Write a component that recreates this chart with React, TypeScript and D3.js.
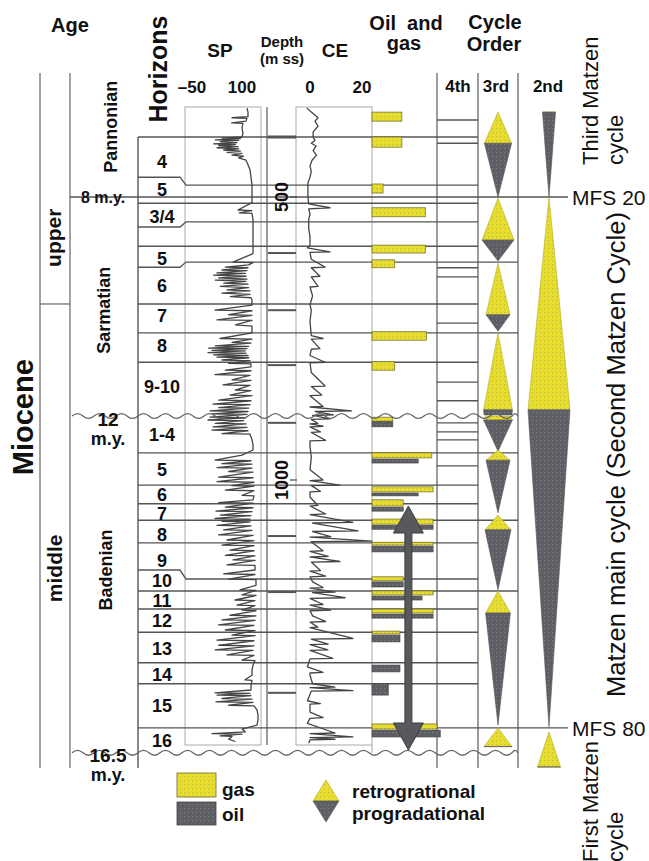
import React from 'react';
import * as d3 from 'd3';

const FONT = "'Liberation Sans', Arial, Helvetica, sans-serif";

// ---------------- data ----------------
const DEPTH_TICKS = [500, 1000];
const SP_TICKS = [-50, 100];
const CE_TICKS = [0, 20];
const ORDER_LABELS = ['4th', '3rd', '2nd'];

const HORIZON_LABELS = ['4', '5', '3/4', '5', '6', '7', '8', '9-10', '1-4', '5', '6', '7', '8', '9', '10', '11', '12', '13', '14', '15', '16'];
const HORIZON_LABEL_DEPTHS = [438, 486, 534, 608, 657, 710, 762, 834, 919, 982, 1025, 1060, 1097, 1142, 1177, 1213, 1248, 1297, 1344, 1398, 1460];
const HORIZON_BOUNDS_LEFT = [394, 465, 511, 553, 587, 624, 689, 740, 792, 952, 1009, 1042, 1071, 1111, 1159, 1196, 1228, 1269, 1323, 1360];
const HORIZON_BOUNDS_RIGHT = [394, 479, 511, 544, 587, 615, 689, 740, 792, 952, 1009, 1042, 1071, 1111, 1175, 1196, 1228, 1269, 1323, 1360];
const THIRD_ORDER_BOUNDS = [615, 740, 952, 1071, 1196];
const FOURTH_ORDER_BOUNDS = [364, 405, 625, 641, 723, 827, 860, 899, 915, 929, 975];
const MFS_LABELS = ['MFS 20', 'MFS 80'];
const MFS_DEPTHS = [500, 1438];
const UNCONFORMITY_DEPTHS = [887, 1482];
const UNCONFORMITY_AGES = ['12', '16.5'];
const AGE_8_DEPTH = 500;

const STAGES = ['Pannonian', 'Sarmatian', 'Badenian'];
const STAGE_DEPTHS = [376, 700, 1159];
const EPOCH_PARTS = ['upper', 'middle'];
const EPOCH_PART_DEPTHS = [572, 1156];
const EPOCH_BOUNDARY = 689;
const EPOCH = 'Miocene';
const EPOCH_DEPTH = 889;

const DEPTH_MARKS = [394, 599, 700, 797, 899, 1099, 1198, 1376];

// SP log [depth m, mV]
const SP_LOG = [
  [343, 115], [350, 118], [358, 118], [360, 70], [361, 115], [366, 112], [369, 69], [370, 103], [378, 100], [387, 103], [394, 100],
  [396, 40], [397, 95], [399, 20], [400, 90], [402, 35], [404, 85], [406, 15], [407, 80], [409, 30], [411, 88], [413, 25], [415, 90], [417, 45], [419, 95], [421, 55], [423, 100], [426, 70], [428, 105], [431, 90], [435, 112],
  [443, 118], [452, 124], [465, 127], [479, 130], [488, 130], [500, 130],
  [510, 130], [523, 88], [524, 130], [528, 92], [529, 130], [541, 133], [549, 133], [567, 133], [585, 133], [600, 133], [615, 73], [616, 133],
  [620, 120], [624, 50], [625, 118], [629, 40], [630, 115], [634, 25], [635, 110], [638, 15], [640, 112], [643, 30], [645, 115], [647, 20], [649, 112], [652, 45], [654, 118], [658, 35], [660, 120], [664, 55], [666, 124], [670, 40], [672, 124], [676, 65], [678, 127], [682, 130],
  [691, 130], [700, 19], [701, 130], [708, 60], [709, 130], [717, 25], [718, 130], [726, 80], [728, 130], [740, 130],
  [750, 34], [751, 130], [757, 70], [758, 127], [763, 20], [764, 120], [767, 0], [768, 115], [771, 10], [772, 110], [775, -2], [776, 112], [779, 15], [780, 118], [783, 25], [784, 120], [788, 40], [789, 124], [794, 60], [795, 127],
  [800, 127], [806, 50], [807, 127], [814, 19], [815, 124], [823, 70], [824, 127], [832, 43], [833, 124], [841, 80], [842, 127], [850, 64], [851, 130], [859, 30], [860, 127], [866, 13], [867, 124], [872, 30], [873, 120], [878, 4], [879, 118], [883, 10], [884, 115],
  [889, 4], [890, 110], [894, -2], [895, 105], [900, 20], [901, 112], [906, 13], [907, 115], [912, 10], [913, 118], [918, 40], [919, 124], [929, 130], [938, 133], [947, 133],
  [956, 100], [965, 19], [966, 127], [971, 40], [972, 130], [978, 25], [979, 130], [985, 60], [986, 133], [995, 30], [996, 133], [1003, 25], [1004, 136], [1010, 70], [1011, 136], [1018, 50], [1019, 136], [1027, 100], [1028, 136],
  [1035, 133], [1040, 30], [1041, 133], [1048, 50], [1049, 133], [1055, 22], [1056, 130], [1062, 35], [1063, 127], [1068, 19], [1069, 124], [1073, 40], [1074, 124], [1080, 25], [1081, 127], [1088, 45], [1089, 130], [1097, 30], [1098, 133], [1106, 55], [1107, 136], [1115, 40], [1116, 136], [1124, 64], [1125, 136], [1133, 50], [1134, 139], [1141, 73], [1142, 139], [1150, 55], [1151, 139],
  [1159, 139], [1166, 45], [1167, 139], [1175, 60], [1176, 142], [1186, 142], [1194, 94], [1195, 142], [1203, 100], [1204, 142],
  [1212, 79], [1213, 139], [1221, 85], [1222, 139], [1230, 100], [1231, 142], [1239, 64], [1240, 142], [1247, 40], [1248, 139], [1256, 30], [1257, 136], [1265, 50], [1266, 139], [1274, 70], [1275, 139],
  [1283, 25], [1284, 136], [1292, 30], [1293, 136], [1300, 19], [1301, 133], [1309, 55], [1310, 136], [1318, 100], [1319, 139],
  [1327, 133], [1336, 130], [1345, 130], [1353, 109], [1354, 130], [1362, 127], [1371, 127], [1376, 19], [1377, 124], [1380, 25], [1381, 127], [1386, 40], [1387, 130], [1392, 22], [1393, 133], [1398, 60], [1399, 136],
  [1406, 145], [1415, 148], [1424, 148], [1433, 145], [1440, 100], [1445, 110], [1448, 10], [1449, 100], [1452, 34], [1453, 70], [1458, 60], [1462, 80],
];

// CE log [depth m, value]
const CE_LOG = [
  [343, -1.2], [350, 0.5], [360, 3.1], [366, 1.9], [375, 3.1], [385, 1.2], [394, 1.2], [400, 1.9], [405, 0.5], [410, 2.3], [418, 1.2], [426, 2.5], [435, 0.8], [445, 0], [455, 0.5], [465, 0], [475, -0.8], [490, -0.8], [500, -0.8], [512, -0.5], [519, 7.7], [521, -0.5], [530, 0], [540, -0.5], [555, -0.5], [570, 0], [585, 0], [590, -1], [597, 7.7], [598, 0], [610, 0.5], [624, 5.8], [625, 0.5], [640, 3.8], [641, 0.5], [658, 3.1], [659, 0], [675, 1], [690, 0], [700, 0.5], [720, 0], [745, 0.5], [750, 5], [751, 0.5], [768, 3.8], [769, 0.5], [780, 0], [792, 5.8], [793, 0], [810, 0.5], [834, 5.8], [835, 0.5], [850, 4.5], [851, 0], [870, 5], [871, 0], [878, 16], [879, 2], [885, 9], [886, 1], [892, 7.7], [893, 0.5], [900, 3], [901, 0], [905, 5], [906, 0], [915, 4], [916, 0.5], [930, 6], [931, 0], [940, 0], [960, 0.5], [982, 0], [1000, 5], [1001, 0], [1009, 11.5], [1010, 0.5], [1020, 4], [1021, 0], [1030, 0], [1045, 3], [1046, 0], [1060, 6], [1061, 0], [1075, 16.5], [1076, 1], [1090, 18.5], [1091, 1], [1100, 8], [1101, 0], [1108, 23.8], [1109, 0.5], [1125, 5], [1126, 0], [1135, 7], [1136, 0], [1144, 11.5], [1145, 0.5], [1160, 4], [1161, 0], [1170, 6], [1171, 0], [1180, 1], [1190, 5], [1191, 0], [1198, 9.6], [1199, 1], [1208, 13.5], [1209, 0], [1220, 5], [1221, 0], [1230, 8], [1231, 0], [1240, 1], [1250, 6], [1251, 0], [1260, 3], [1261, 0], [1280, 16.5], [1281, 0.5], [1290, 7], [1291, 0], [1300, 6.9], [1301, 0], [1315, 8.8], [1316, 0], [1330, -1], [1340, 5], [1341, 0], [1345, 0], [1360, 1], [1366, 9.6], [1367, 0], [1372, 16.5], [1373, 0.5], [1390, -1], [1395, 4], [1396, 0], [1410, 0], [1420, 5], [1421, 0], [1430, -1], [1447, 9.6], [1448, 0], [1454, 16.5], [1455, 0], [1458, 9.6], [1459, 0], [1465, -0.5],
];

// Oil and gas shows: [top depth, bottom depth, relative size]
const GAS_SHOWS = [
  [350, 366, 4.6], [394, 412, 4.6], [477, 493, 1.7], [519, 535, 8.2], [585, 599, 8.2], [611, 625, 3.5], [738, 753, 8.4], [791, 806, 3.5],
  [889, 896, 3.2], [952, 961, 9.2], [1012, 1021, 9.4], [1035, 1046, 4.8], [1069, 1078, 9.4], [1110, 1115, 9.4], [1171, 1178, 4.8],
  [1196, 1203, 9.4], [1228, 1235, 9.4], [1267, 1272, 4.3], [1431, 1440, 10],
];
const OIL_SHOWS = [
  [897, 906, 3.2], [963, 970, 7.1], [1023, 1028, 7.1], [1048, 1055, 4.8], [1080, 1087, 9.4], [1117, 1127, 9.4], [1180, 1189, 4.8],
  [1205, 1212, 7.7], [1237, 1244, 9.4], [1274, 1286, 4.3], [1327, 1339, 4.3], [1360, 1380, 2.5], [1442, 1454, 10.5],
];
const ARROW_DEPTHS = [1046, 1477];
const ARROW_POS = 5.6;

// 3rd order cycles
const CYC3_TOP = [350, 502, 617, 740, 887, 947, 1062, 1196, 1438];
const CYC3_MFS = [405, 576, 708, 876, 894, 965, 1088, 1235, 1471];
const CYC3_BASE = [500, 613, 737, 885, 949, 1058, 1194, 1433, 1471];
const CYC3_SIZE = [0.68, 0.8, 0.6, 0.72, 0.72, 0.6, 0.65, 0.62, 0.7];
const CYC3_TOPSIZE = [0, 0, 0, 0, 0.6, 0, 0, 0, 0];
const CYC3_BASESIZE = [0, 0, 0, 0.7, 0, 0, 0, 0, 0.7];

// 2nd order cycles
const CYC2_TOP = [350, 500, 1445];
const CYC2_MFS = [350, 876, 1507];
const CYC2_BASE = [500, 1436, 1507];
const CYC2_SIZE = [0.31, 1.0, 0.55];
const CYC2_TOPSIZE = [0.31, 0, 0];
const CYC2_BASESIZE = [0, 0, 0.55];

// ---------------- helpers ----------------
const wavyPath = (x0: number, x1: number, yy: number) => {
  const step = 11;
  const amp = 2.4;
  let p = `M${x0},${yy}`;
  let k = 0;
  for (let x = x0; x < x1; x += step, k++) {
    const xe = Math.min(x + step, x1);
    p += ` Q${(x + xe) / 2},${yy + (k % 2 ? amp * 2 : -amp * 2)} ${xe},${yy}`;
  }
  return p;
};

const RotText = ({ x, y, size, weight = 'bold', anchor = 'middle', children, textLength }: any) => (
  <text
    transform={`translate(${x},${y}) rotate(-90)`}
    textAnchor={anchor}
    fontSize={size}
    fontWeight={weight}
    fontFamily={FONT}
    fill="#111"
    textLength={textLength}
    lengthAdjust={textLength ? 'spacingAndGlyphs' : undefined}
  >
    {children}
  </text>
);

const YEL = 'url(#pY)';
const GRY = 'url(#pG)';
const LINE = '#555';

export default function App() {
  const y = d3.scaleLinear().domain([500, 1000]).range([197, 480]);
  const xSP = d3.scaleLinear().domain([-50, 100]).range([192, 242]);
  const xCE = d3.scaleLinear().domain([0, 20]).range([310, 362]);
  const xRes = d3.scaleLinear().domain([0, 10]).range([372, 437]);
  const w3 = d3.scaleLinear().domain([0, 1]).range([0, 20]);
  const w2 = d3.scaleLinear().domain([0, 1]).range([0, 21]);
  const CX3 = 498;
  const CX2 = 549;

  const spLine = d3.line<number[]>().x((d) => xSP(d[1])).y((d) => y(d[0]));
  const ceLine = d3.line<number[]>().x((d) => xCE(d[1])).y((d) => y(d[0]));

  const cyc = (cx: number, ws: any, t: number, m: number, b: number, s: number, ts: number, bs: number) => {
    const yT = y(t), yM = y(m), yB = y(b);
    const wT = ws(ts), wM = ws(s), wB = ws(bs);
    return {
      yellow: `M${cx - wT},${yT} L${cx + wT},${yT} L${cx + wM},${yM} L${cx - wM},${yM} Z`,
      grey: `M${cx - wM},${yM} L${cx + wM},${yM} L${cx + wB},${yB} L${cx - wB},${yB} Z`,
    };
  };

  const ax = xRes(ARROW_POS);
  const aT = y(ARROW_DEPTHS[0]);
  const aB = y(ARROW_DEPTHS[1]);
  const hl = 27, hw = 15, sw = 3.5;
  const arrowPts = [
    [ax, aT], [ax + hw, aT + hl], [ax + sw, aT + hl], [ax + sw, aB - hl], [ax + hw, aB - hl], [ax, aB],
    [ax - hw, aB - hl], [ax - sw, aB - hl], [ax - sw, aT + hl], [ax - hw, aT + hl],
  ];

  const colTop = 73, colBot = 768, logTop = 107, logBot = 745;
  const t = (s: number, w: string = 'bold') => ({ fontSize: s, fontWeight: w, fontFamily: FONT, fill: '#111' });

  return (
    <svg width={649} height={861} style={{ position: 'absolute', left: 0, top: 0, background: '#fff' }}>
      <defs>
        <pattern id="pY" width="4" height="4" patternUnits="userSpaceOnUse">
          <rect width="4" height="4" fill="#e7dd2f" />
          <rect x="0" y="0" width="1.2" height="1.2" fill="#9c9530" opacity="0.45" />
        </pattern>
        <pattern id="pG" width="4" height="4" patternUnits="userSpaceOnUse">
          <rect width="4" height="4" fill="#5e5f64" />
          <rect x="0" y="0" width="1.2" height="1.2" fill="#8d8e93" opacity="0.6" />
        </pattern>
      </defs>
      <rect width={649} height={861} fill="#fff" />

      {/* column frame lines */}
      {[40, 70].map((x) => (
        <line key={x} x1={x} x2={x} y1={colTop} y2={colBot} stroke="#666" strokeWidth={1.2} />
      ))}
      <line x1={138} x2={138} y1={y(HORIZON_BOUNDS_LEFT[0])} y2={colBot} stroke="#555" strokeWidth={1.4} />
      {[437, 478, 518].map((x) => (
        <line key={x} x1={x} x2={x} y1={colTop} y2={colBot} stroke="#666" strokeWidth={1.3} />
      ))}
      <line x1={40} x2={70} y1={y(EPOCH_BOUNDARY)} y2={y(EPOCH_BOUNDARY)} stroke="#666" strokeWidth={1.2} />

      {/* log tracks */}
      <rect x={185} y={logTop} width={76} height={logBot - logTop} fill="none" stroke="#aaa" strokeWidth={1} />
      <line x1={267} x2={267} y1={logTop} y2={logBot} stroke="#666" strokeWidth={1.3} />
      <rect x={296} y={logTop} width={76} height={logBot - logTop} fill="none" stroke="#aaa" strokeWidth={1} />
      <line x1={372} x2={372} y1={logBot} y2={753} stroke="#aaa" strokeWidth={1} />

      {/* horizon boundaries */}
      {HORIZON_BOUNDS_LEFT.map((dl, i) => {
        const yl = y(dl), yr = y(HORIZON_BOUNDS_RIGHT[i]);
        const ext = THIRD_ORDER_BOUNDS.includes(HORIZON_BOUNDS_RIGHT[i]) ? 518 : 478;
        return (
          <path key={i} d={`M138,${yl} L180,${yl} L186,${yr} L${ext},${yr}`} fill="none" stroke={LINE} strokeWidth={1.4} />
        );
      })}
      {FOURTH_ORDER_BOUNDS.map((d, i) => (
        <line key={i} x1={437} x2={478} y1={y(d)} y2={y(d)} stroke={LINE} strokeWidth={1.3} />
      ))}
      {MFS_DEPTHS.map((d, i) => (
        <g key={i}>
          <line x1={i === 0 ? 70 : 138} x2={568} y1={y(d)} y2={y(d)} stroke={LINE} strokeWidth={1.4} />
          <text x={572} y={y(d) + 8} {...t(21, 'normal')}>{MFS_LABELS[i]}</text>
        </g>
      ))}

      {/* depth column marks */}
      {DEPTH_MARKS.map((d, i) => (
        <line key={i} x1={268} x2={296} y1={y(d)} y2={y(d)} stroke="#555" strokeWidth={i === 0 ? 3 : 2} />
      ))}
      {DEPTH_TICKS.map((d) => (
        <g key={d}>
          <line x1={290} x2={297} y1={y(d)} y2={y(d)} stroke="#555" strokeWidth={1.3} />
          <RotText x={288} y={y(d)} size={18}>{d}</RotText>
        </g>
      ))}

      {/* logs */}
      <path d={spLine(SP_LOG as any) || ''} fill="none" stroke="#444" strokeWidth={1.3} strokeLinejoin="round" />
      <path d={ceLine(CE_LOG as any) || ''} fill="none" stroke="#444" strokeWidth={1.3} strokeLinejoin="round" />

      {/* oil and gas shows */}
      {GAS_SHOWS.map((g, i) => (
        <rect key={'g' + i} x={xRes(0)} y={y(g[0])} width={xRes(g[2]) - xRes(0)} height={y(g[1]) - y(g[0])}
          fill={YEL} stroke="#6f6a2a" strokeWidth={0.7} />
      ))}
      {OIL_SHOWS.map((g, i) => (
        <rect key={'o' + i} x={xRes(0)} y={y(g[0])} width={xRes(g[2]) - xRes(0)} height={y(g[1]) - y(g[0])}
          fill={GRY} stroke="#444" strokeWidth={0.7} />
      ))}

      {/* arrow */}
      <polygon points={arrowPts.map((p) => p.join(',')).join(' ')} fill="#58595d" stroke="#3e3e40" strokeWidth={1} />

      {/* 3rd order cycles */}
      {CYC3_TOP.map((tp, i) => {
        const c = cyc(CX3, w3, tp, CYC3_MFS[i], CYC3_BASE[i], CYC3_SIZE[i], CYC3_TOPSIZE[i], CYC3_BASESIZE[i]);
        return (
          <g key={i}>
            <path d={c.yellow} fill={YEL} stroke="#b5ad28" strokeWidth={0.6} />
            <path d={c.grey} fill={GRY} stroke="#55565a" strokeWidth={0.6} />
          </g>
        );
      })}
      {/* 2nd order cycles */}
      {CYC2_TOP.map((tp, i) => {
        const c = cyc(CX2, w2, tp, CYC2_MFS[i], CYC2_BASE[i], CYC2_SIZE[i], CYC2_TOPSIZE[i], CYC2_BASESIZE[i]);
        return (
          <g key={i}>
            <path d={c.yellow} fill={YEL} stroke="#b5ad28" strokeWidth={0.6} />
            <path d={c.grey} fill={GRY} stroke="#55565a" strokeWidth={0.6} />
          </g>
        );
      })}

      {/* unconformities */}
      {UNCONFORMITY_DEPTHS.map((d, i) => (
        <g key={i}>
          <path d={wavyPath(72, 518, y(d))} fill="none" stroke="#666" strokeWidth={1.3} />
          <text x={108} y={y(d) + (i === 0 ? 10 : 9)} textAnchor="middle" {...t(19)}>{UNCONFORMITY_AGES[i]}</text>
          <text x={108} y={y(d) + (i === 0 ? 29 : 28)} textAnchor="middle" {...t(18)}>m.y.</text>
        </g>
      ))}
      <text x={103} y={y(AGE_8_DEPTH) + 6} textAnchor="middle" {...t(16)}>8 m.y.</text>

      {/* horizon labels */}
      {HORIZON_LABELS.map((h, i) => (
        <text key={i} x={162} y={y(HORIZON_LABEL_DEPTHS[i]) + 6.5} textAnchor="middle" {...t(18)}>{h}</text>
      ))}

      {/* stratigraphy labels */}
      <RotText x={117} y={y(STAGE_DEPTHS[0])} size={18}>{STAGES[0]}</RotText>
      <RotText x={110} y={y(STAGE_DEPTHS[1])} size={18}>{STAGES[1]}</RotText>
      <RotText x={112} y={y(STAGE_DEPTHS[2])} size={18}>{STAGES[2]}</RotText>
      <RotText x={61} y={y(EPOCH_PART_DEPTHS[0])} size={21}>{EPOCH_PARTS[0]}</RotText>
      <RotText x={62} y={y(EPOCH_PART_DEPTHS[1])} size={21}>{EPOCH_PARTS[1]}</RotText>
      <RotText x={33} y={y(EPOCH_DEPTH)} size={29}>{EPOCH}</RotText>

      {/* headers */}
      <text x={70} y={32} textAnchor="middle" {...t(20)}>Age</text>
      <RotText x={167} y={69} size={25}>Horizons</RotText>
      <text x={220} y={57} textAnchor="middle" {...t(19)}>SP</text>
      <text x={282} y={47} textAnchor="middle" {...t(15)}>Depth</text>
      <text x={282} y={64} textAnchor="middle" {...t(15)}>(m ss)</text>
      <text x={335} y={57} textAnchor="middle" {...t(19)}>CE</text>
      <text x={406} y={30} textAnchor="middle" {...t(20)} style={{ whiteSpace: 'pre' }}>Oil  and</text>
      <text x={404} y={50} textAnchor="middle" {...t(20)}>gas</text>
      <text x={495} y={29} textAnchor="middle" {...t(20)}>Cycle</text>
      <text x={494} y={51} textAnchor="middle" {...t(20)}>Order</text>
      {SP_TICKS.map((v) => (
        <text key={v} x={xSP(v)} y={93} textAnchor="middle" {...t(17)}>{v < 0 ? '\u2013' + Math.abs(v) : v}</text>
      ))}
      {CE_TICKS.map((v) => (
        <text key={v} x={xCE(v)} y={93} textAnchor="middle" {...t(17)}>{v}</text>
      ))}
      {ORDER_LABELS.map((l, i) => (
        <text key={l} x={[458, 496, 548][i]} y={92} textAnchor="middle" {...t(17)}>{l}</text>
      ))}

      {/* right side cycle names */}
      <RotText x={598} y={165} size={22} weight="normal" anchor="start">Third Matzen</RotText>
      <RotText x={623} y={165} size={22} weight="normal" anchor="start">cycle</RotText>
      <RotText x={625} y={697} size={26} weight="normal" anchor="start" textLength={485}>Matzen main cycle (Second Matzen Cycle)</RotText>
      <RotText x={598} y={862} size={22} weight="normal" anchor="start">First Matzen</RotText>
      <RotText x={623} y={862} size={22} weight="normal" anchor="start">cycle</RotText>

      {/* legend */}
      <rect x={177} y={773} width={39} height={24} fill={YEL} stroke="#6f6a2a" strokeWidth={0.8} />
      <rect x={177} y={802} width={39} height={23} fill={GRY} stroke="#444" strokeWidth={0.8} />
      <text x={222} y={796} {...t(19)}>gas</text>
      <text x={222} y={821} {...t(19)}>oil</text>
      <path d="M326,780 L339,801 L313,801 Z" fill={YEL} stroke="#b5ad28" strokeWidth={0.6} />
      <path d="M313,801 L339,801 L326,822 Z" fill={GRY} stroke="#55565a" strokeWidth={0.6} />
      <text x={352} y={798} {...t(19)}>retrogrational</text>
      <text x={352} y={820} {...t(19)}>progradational</text>
    </svg>
  );
}
